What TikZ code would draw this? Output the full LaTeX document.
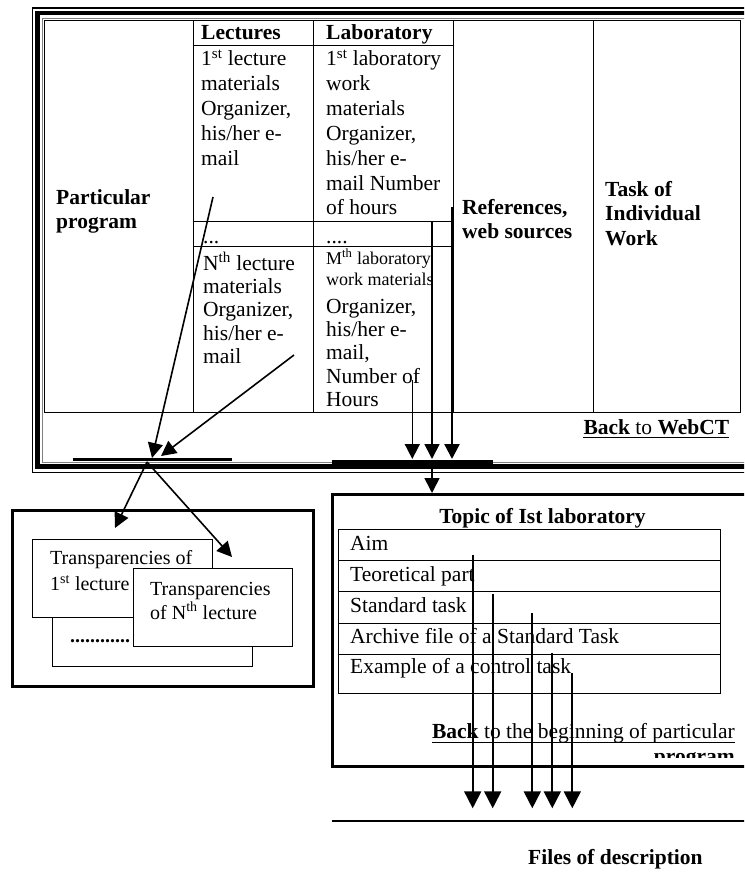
\documentclass[tikz,border=0pt]{standalone}
\usepackage{fontspec}
\setmainfont{Liberation Serif}
\usetikzlibrary{arrows.meta}

\tikzset{
  txt/.style={inner sep=0pt,anchor=base west,font=\fontsize{21.5}{24}\selectfont},
  bld/.style={txt,font=\fontsize{21.5}{24}\selectfont\bfseries},
  sml/.style={txt,font=\fontsize{18}{20}\selectfont},
  crd/.style={txt,font=\fontsize{20}{23}\selectfont},
  arr/.style={-{Triangle[width=15pt,length=15pt]},line width=1.6pt},
  bigarr/.style={-{Triangle[width=17pt,length=17pt]},line width=1.8pt},
}

\begin{document}
\begin{tikzpicture}[x=1pt,y=-1pt]
  \clip (0,0) rectangle (744,872);
  % page frame of the program
  \draw[line width=1.2pt] (32.3,8) rectangle (760,472.3);
  \draw[line width=4.5pt] (37.5,13) rectangle (760,466.5);
  \draw[gray,line width=0.8pt] (42,18) rectangle (760,462.5);
  % main table
  \draw[line width=0.9pt] (44.3,20.7) rectangle (740,412.7);
  \draw[line width=0.9pt] (193.3,20.7) -- (193.3,412.7) (313.8,20.7) -- (313.8,412.7)
        (453.3,20.7) -- (453.3,412.7) (593.3,20.7) -- (593.3,412.7);
  \draw[line width=0.9pt] (193.3,45.7) -- (453.3,45.7) (193.3,221.7) -- (453.3,221.7)
        (193.3,246.7) -- (453.3,246.7);
  \node[bld] (lect) at (201,40) {Lectures};
  \node[bld] (lab) at (326,40) {Laboratory};
  \node[bld] (part) at (56,204) {Particular};
  \node[bld] (prog) at (56,228.5) {program};
  \node[bld] (ref) at (462,214.5) {References,};
  \node[bld] (web) at (462,238.5) {web sources};
  \node[bld] (task) at (605,196) {Task of};
  \node[bld] (indiv) at (605,220.5) {Individual};
  \node[bld] (work) at (605,245) {Work};
  \foreach \t [count=\i from 0] in {{1\textsuperscript{st} lecture},materials,{Organizer,},his/her e-,mail}
    \node[txt] (lecA\i) at (201,66+24.8*\i) {\t};
  \foreach \t [count=\i from 0] in {{1\textsuperscript{st} laboratory},work,materials,{Organizer,},his/her e-,mail Number,of hours}
    \node[txt] (labA\i) at (326,66+24.8*\i) {\t};
  \node[txt] (dotA) at (203,243) {...};
  \node[txt] (dotB) at (326,243) {....};
  \foreach \t [count=\i from 0] in {{N\textsuperscript{th} lecture},materials,{Organizer,},his/her e-,mail}
    \node[txt] (lecB\i) at (203,270+23.4*\i) {\t};
  \node[sml] (labM) at (326,264) {M\textsuperscript{th} laboratory};
  \node[sml] (labW) at (326,285) {work materials};
  \foreach \t [count=\i from 0] in {{Organizer,},his/her e-,{mail,},Number of,Hours}
    \node[txt] (labB\i) at (326,313+23.4*\i) {\t};
  \node[txt] (back) at (583.3,434) {\textbf{Back} to \textbf{WebCT}};
  \draw[line width=1.3pt] ([yshift=-3.4pt]back.base west) -- ([yshift=-3.4pt]back.base east);
  \draw[line width=2.5pt] (72.7,459.3) -- (232.3,459.3);
  \draw[line width=4.5pt] (331.7,462) -- (493,462);
  % links to transparencies
  \coordinate (a1) at (213,197);
  \coordinate (t1) at (152,458);
  \coordinate (a2) at (294,355);
  \coordinate (t2) at (161,456);
  \draw[arr] (a1) -- (t1);
  \draw[arr] (a2) -- (t2);
  \coordinate (j) at (147,462);
  \coordinate (tl) at (115,528);
  \coordinate (tr) at (232,557);
  \draw[arr] (j) -- (tl);
  \draw[arr] (j) -- (tr);
  % links to laboratory page
  \foreach \x/\y/\w [count=\i] in {412.3/380/1.6,432/222/1.8,452/207/2.4}{
    \coordinate (s\i) at (\x,\y);
    \coordinate (e\i) at (\x,459);
    \draw[arr,line width=\w pt] (s\i) -- (e\i);
  }
  \coordinate (la) at (432,467);
  \coordinate (lb) at (432,493);
  \draw[arr] (la) -- (lb);
  % transparencies
  \draw[line width=3pt] (12.3,510) rectangle (313.3,686.7);
  \draw[fill=white] (52.3,590) rectangle (252.3,665.7);
  \node[crd,font=\fontsize{20}{23}\selectfont\bfseries] (dots) at (70,642) {............};
  \draw[fill=white] (32.3,539.3) rectangle (212.3,616.7);
  \node[crd] (trA) at (50,564) {Transparencies of};
  \node[crd] (trB) at (50,590.7) {1\textsuperscript{st} lecture};
  \draw[fill=white] (132.7,567.7) rectangle (292.3,645.7);
  \node[crd] (trC) at (150,595) {Transparencies};
  \node[crd] (trD) at (150,619.3) {of N\textsuperscript{th} lecture};
  % laboratory page
  \draw[line width=3pt] (332.7,494.3) rectangle (760,766.7);
  \node[bld,anchor=base] (topic) at (542.5,523) {Topic of Ist laboratory};
  \draw[line width=0.9pt] (338.3,529.3) rectangle (720,693.3);
  \draw[line width=0.9pt] (338.3,560) -- (720,560) (338.3,591.7) -- (720,591.7)
        (338.3,623.3) -- (720,623.3) (338.3,654) -- (720,654);
  \node[txt] (aim) at (350,550) {Aim};
  \node[txt] (teo) at (350,581.7) {Teoretical part};
  \node[txt] (std) at (350,612.7) {Standard task};
  \node[txt] (arch) at (350,643.3) {Archive file of a Standard Task};
  \node[txt] (ctrl) at (350,673.3) {Example of a control task};
  \node[txt,anchor=base east] (backb) at (735,738.3) {\textbf{Back} to the beginning of particular};
  \draw[line width=1.3pt] ([yshift=-4.4pt]backb.base west) -- ([yshift=-4.4pt]backb.base east);
  \begin{scope}
    \clip (600,740) rectangle (744,757.5);
    \node[bld,anchor=base east] (progb) at (735,763) {program};
  \end{scope}
  % files of description
  \foreach \x/\y [count=\i] in {472.7/555,492.7/594.3,532.3/613.3,552.3/652.7,572.3/673.3}{
    \coordinate (f\i) at (\x,\y);
    \coordinate (g\i) at (\x,808.3);
    \draw[bigarr] (f\i) -- (g\i);
  }
  \draw[line width=2.5pt] (332,821) -- (760,821);
  \node[bld] (files) at (528,864) {Files of description};
\end{tikzpicture}
\end{document}
